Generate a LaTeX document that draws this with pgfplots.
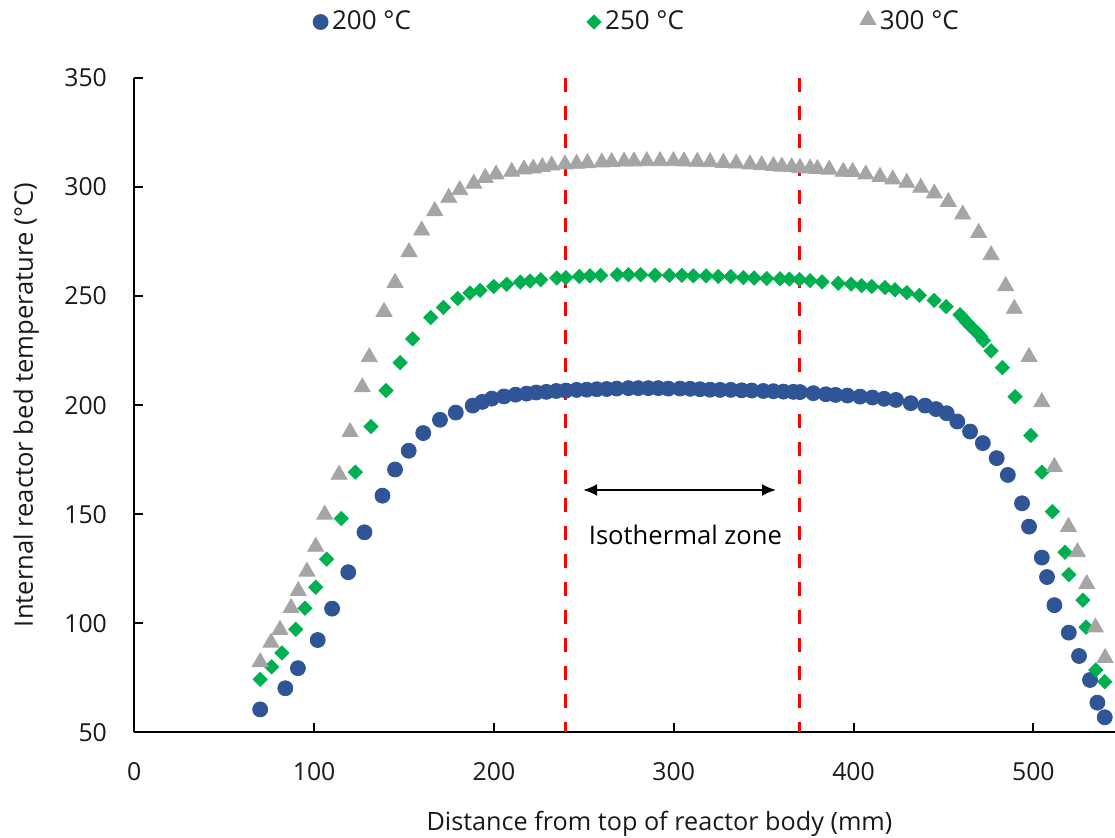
\documentclass[border=0pt]{standalone}
\usepackage{pgfplots}
\pgfplotsset{compat=1.18}
\usepackage{fontspec}
\setmainfont{Open Sans}
\usetikzlibrary{arrows.meta}
\definecolor{cblue}{RGB}{47,85,151}
\definecolor{cgreen}{RGB}{0,176,80}
\definecolor{cgray}{RGB}{165,165,165}
\begin{document}
\begin{tikzpicture}
\begin{axis}[
  scale only axis,
  width=490.35pt, height=327.15pt,
  xmin=0, xmax=545.4, ymin=50, ymax=350,
  axis x line=bottom, axis y line=left,
  axis line style={-, line width=1pt, black},
  xtick={0,100,...,500}, ytick={50,100,...,350},
  tick align=inside, major tick length=4.5pt,
  tick style={line width=1pt, black},
  /pgf/number format/assume math mode=true,
  ticklabel style={font=\fontsize{12.4}{14}\selectfont, text=black!90, inner sep=0pt},
  xticklabel style={anchor=base, yshift=-24pt},
  yticklabel style={anchor=east, xshift=-13.5pt},
  xlabel={Distance from top of reactor body (mm)},
  ylabel={Internal reactor bed temperature (°C)},
  label style={text=black!90, inner sep=0pt},
  xlabel style={font=\fontsize{12.6}{14}\selectfont, at={(axis description cs:0.5355,0)}, anchor=base, yshift=-49.2pt},
  ylabel style={font=\fontsize{12.8}{14}\selectfont, at={(axis description cs:0,0.5)}, anchor=center, yshift=54pt},
  legend columns=3,
  legend style={at={(axis description cs:0.5136,1.0856)}, anchor=center, draw=none,
    font=\fontsize{13}{15}\selectfont, text=black!90,
    /tikz/every even column/.append style={column sep=86pt}},
  legend cell align=left,
  clip=false,
]
\addplot[only marks, mark=*, mark size=3.75pt, color=cblue] coordinates {
(70,60.5) (84,70.2) (91,79.4) (102,92.3) (110,106.7) (119,123.4) (128,141.7) (138,158.5)
(145,170.5) (152.6,179.1) (160.7,187.2) (170,193.3) (178.8,196.6) (188.2,199.8) (193.5,201.5)
(198.8,203) (205.6,204) (212,204.8) (218.2,205.3) (223.5,205.8) (229.2,206.1) (234.7,206.5)
(240,206.7) (246,207) (251.6,207.1) (257.2,207.3) (262.7,207.4) (268.3,207.6) (274.8,207.8)
(280.3,207.8) (285.9,207.8) (291.4,207.8) (297,207.6) (303.5,207.6) (309.1,207.5) (314.6,207.3)
(320.2,207.1) (325.8,207) (331.7,207) (337.8,206.8) (343.4,206.7) (349.8,206.5) (355.4,206.4)
(361,206.2) (366.5,206.1) (370.2,206) (377.6,205.5) (384.6,205) (390,204.7) (396.6,204.4)
(403.6,203.9) (410.5,203.5) (417,202.9) (423.6,202.4) (431.8,200.9) (439.8,199.8) (445.9,198.2)
(451.8,196.3) (457.7,192.5) (464.8,187.9) (471.9,182.6) (479.6,175.7) (485.8,168) (493.7,155)
(497.6,144.3) (504.7,130.1) (507.6,121.2) (511.7,108.3) (519.7,95.7) (525.4,85) (531.5,74)
(535.6,63.6) (539.7,56.9)
};
\addlegendentry{200 °C}
\addplot[only marks, mark=square*, mark size=2.5pt, mark options={rotate=45}, color=cgreen] coordinates {
(70,74.3) (76.4,80) (82.1,86.4) (89.8,97.2) (94.9,106.9) (100.9,116.5) (107,129.4) (115.1,148)
(122.9,169.3) (131.6,190.2) (140,206.7) (147.8,219.5) (154.8,230.4) (164.9,240.2) (171.9,244.8)
(179.9,248.9) (186.7,251.4) (192.3,252.6) (199.9,254.4) (207.1,255.4) (214.7,256.4) (220.1,256.9)
(226,257.5) (234.9,258.3) (240,258.5) (247.5,259) (253.4,259.3) (259.4,259.5) (268.6,259.8)
(274.8,259.8) (281.6,259.8) (289.6,259.6) (297.6,259.5) (304.5,259.5) (310.9,259.3) (318,259.3)
(324.8,259) (331.7,259) (338.7,258.5) (344.7,258.3) (351.7,258.1) (359.1,257.9) (364.3,257.8)
(369.9,257.6) (375.8,257.1) (382.5,256.5) (391.5,255.9) (398.6,255.5) (404.5,254.8) (410.1,254.4)
(417.5,253.9) (423.1,252.9) (429.6,251.6) (436.6,250.3) (444.8,248) (451.5,245.2) (459.2,241.4)
(461,239.8) (463,238) (465,236.2) (467,234.6) (469,233) (470.8,231.4) (472.2,229.6) (476.5,224.9)
(482.8,217.2) (489.8,203.9) (498.6,186.1) (504.7,169.3) (510.6,151.2) (517.6,132.6) (519.7,122.3)
(527.5,110.6) (529.3,98.2) (534.7,78.6) (539.7,73.2)
};
\addlegendentry{250 °C}
\addplot[only marks, mark=triangle*, mark size=4.6pt, mark options={yshift=1pt}, color=cgray] coordinates {
(70,81.3) (76,90.2) (81,96.1) (87.2,106.1) (91.2,113.9) (96,122.8) (100.9,134.2) (105.9,148.9)
(113.9,167.2) (120,186.8) (126.8,207.3) (130.7,221.1) (138.9,241.9) (145,255.2) (152.8,269.3)
(159.8,279.2) (167.1,288.1) (174.9,294.2) (181,297.7) (188.8,300.7) (195.2,303.3) (201.2,304.9)
(209.9,306.1) (216.7,307.2) (221.9,307.6) (226.9,308.3) (232.1,309) (239.5,309.5) (246,309.8)
(252,310.1) (260,310.4) (265.5,310.6) (272.4,310.8) (277.9,310.9) (285,311) (292.4,311) (299.8,311)
(305.7,310.9) (313.1,310.7) (320.2,310.5) (327.6,310.2) (334.7,309.9) (342.4,309.5) (348.9,309.1)
(355.4,308.8) (360.1,308.5) (365.6,308.2) (370.2,307.9) (375.8,307.6) (379.9,307.4) (386.5,307.1)
(394.3,306.1) (399.5,306) (406.8,304.9) (414.7,303.8) (421.8,302.6) (429.6,301.1) (437.4,298.8)
(444.9,296.2) (452.7,292.3) (460.7,286.5) (469.6,278.1) (476.5,267.9) (484.6,253.7) (489.4,243.3)
(497.6,221.2) (504.7,200.5) (511.7,170.8) (519.5,143.3) (524.5,131.7) (529.7,117.1) (534.5,97.2)
(539.9,83.2)
};
\addlegendentry{300 °C}
\draw[red, line width=1.6pt, dash pattern=on 7pt off 7pt] (axis cs:240,350) -- (axis cs:240,50);
\draw[red, line width=1.6pt, dash pattern=on 7pt off 7pt] (axis cs:370,350) -- (axis cs:370,50);
\draw[{Latex[length=7pt,width=6pt]}-{Latex[length=7pt,width=6pt]}, line width=1.1pt, black]
  (axis cs:249.6,161.1) -- (axis cs:356.9,161.1);
\node[font=\fontsize{12.8}{15}\selectfont, text=black] at (axis cs:306.5,140.5) {Isothermal zone};
\end{axis}
\pgfresetboundingbox
\path[use as bounding box] ([xshift=-67.15pt,yshift=-52.35pt]current axis.south west) rectangle ([yshift=39pt]current axis.north east);
\end{tikzpicture}
\end{document}
